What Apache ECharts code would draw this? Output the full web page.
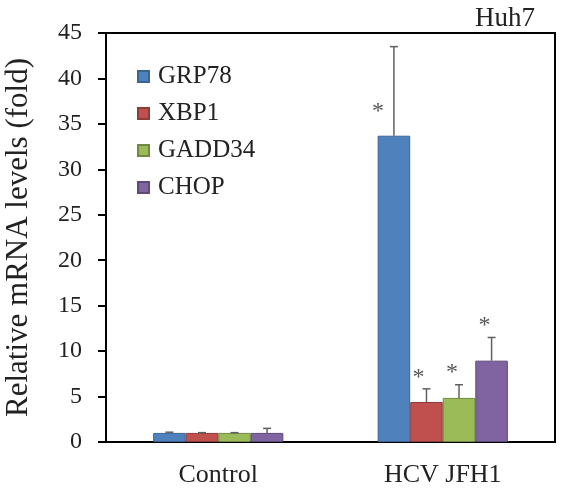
<!DOCTYPE html>
<html><head><meta charset="utf-8">
<script src="https://cdn.jsdelivr.net/npm/echarts@6/dist/echarts.min.js"></script>
<style>html,body{margin:0;padding:0;background:#fff}#c{width:564px;height:492px}</style>
</head><body><div id="c"></div>
<script>
const categories = ['Control', 'HCV JFH1'];
const seriesNames = ['GRP78', 'XBP1', 'GADD34', 'CHOP'];
const grp78 = [1.0, 33.7];
const xbp1 = [1.0, 4.4];
const gadd34 = [1.0, 4.85];
const chop = [1.0, 8.95];
const grp78Err = [0.08, 9.8];
const xbp1Err = [0.03, 1.45];
const gadd34Err = [0.03, 1.45];
const chopErr = [0.5, 2.55];
const grp78Star = [null, 36.6];
const xbp1Star = [null, 7.3];
const gadd34Star = [null, 7.85];
const chopStar = [null, 13.0];
const yMin = 0, yMax = 45, yStep = 5;
const panelTitle = 'Huh7';
const yTitle = 'Relative mRNA levels (fold)';

const values = [grp78, xbp1, gadd34, chop];
const errs = [grp78Err, xbp1Err, gadd34Err, chopErr];
const stars = [grp78Star, xbp1Star, gadd34Star, chopStar];
const fills = ['#4F81BD', '#C0504D', '#9BBB59', '#8064A2'];
const borders = ['#3A6496', '#8E3B39', '#6F8A3F', '#5E4A7A'];
const starDx = [-16, -8, -7, -7];
const FONT = 'Liberation Serif';
const CAT_GAP = 0.42;

const chart = echarts.init(document.getElementById('c'), null, {renderer: 'canvas'});

const series = [];
seriesNames.forEach((name, k) => {
  series.push({
    name: name, type: 'bar', data: values[k],
    barGap: '0%', barCategoryGap: (CAT_GAP * 100) + '%',
    itemStyle: {color: fills[k], borderColor: borders[k], borderWidth: 1},
    emphasis: {disabled: true}, z: 2
  });
});
seriesNames.forEach((name, k) => {
  series.push({
    type: 'custom', name: name + '-err', z: 5, silent: true,
    encode: {x: 0, y: 1},
    data: categories.map((c, i) => [i, values[k][i], errs[k][i], stars[k][i] == null ? -1 : stars[k][i]]),
    renderItem: function (params, api) {
      const ci = api.value(0), v = api.value(1), e = api.value(2), s = api.value(3);
      const base = api.coord([ci, v]);
      const top = api.coord([ci, v + e]);
      const band = api.size([1, 0])[0];
      const bw = band * (1 - CAT_GAP) / 4;
      const x = base[0] + (k - 1.5) * bw;
      const stroke = {stroke: '#606060', lineWidth: 1.5};
      const children = [
        {type: 'line', shape: {x1: x, y1: base[1], x2: x, y2: top[1]}, style: stroke},
        {type: 'line', shape: {x1: x - 4, y1: top[1], x2: x + 4, y2: top[1]}, style: stroke}
      ];
      if (s >= 0) {
        const sp = api.coord([ci, s]);
        children.push({type: 'text', x: x + starDx[k], y: sp[1] + 2,
          style: {text: '*', fontFamily: FONT, fontSize: 24, fill: '#555', align: 'center', verticalAlign: 'middle'}});
      }
      return {type: 'group', children: children};
    }
  });
});

chart.setOption({
  animation: false,
  backgroundColor: '#fff',
  textStyle: {fontFamily: FONT},
  title: {text: panelTitle, right: 24, top: 0,
    textStyle: {fontFamily: FONT, fontSize: 27, fontWeight: 'normal', color: '#222'}},
  legend: {
    data: seriesNames, orient: 'vertical', left: 137, top: 64, padding: 0,
    itemWidth: 11, itemHeight: 11, itemGap: 12, icon: 'rect',
    textStyle: {fontFamily: FONT, fontSize: 25, color: '#222', padding: [0, 0, 0, 4]}
  },
  grid: {left: 106, right: 9, top: 33, bottom: 50, show: true, borderColor: '#000', borderWidth: 2,
    containLabel: false, outerBoundsMode: 'none'},
  xAxis: {
    type: 'category', data: categories,
    axisLine: {lineStyle: {color: '#000', width: 2}},
    axisTick: {show: false},
    axisLabel: {fontFamily: FONT, fontSize: 26, color: '#222', margin: 20}
  },
  yAxis: {
    type: 'value', min: yMin, max: yMax, interval: yStep,
    name: yTitle, nameLocation: 'middle', nameRotate: 90, nameGap: 72,
    nameTextStyle: {fontFamily: FONT, fontSize: 31, color: '#222', padding: [6, 0, 0, 0]},
    axisLine: {show: true, lineStyle: {color: '#000', width: 2}},
    axisTick: {show: true, inside: false, length: 8, lineStyle: {color: '#000', width: 2}},
    axisLabel: {fontFamily: FONT, fontSize: 24, color: '#222', margin: 24},
    splitLine: {show: false}
  },
  series: series
});
</script></body></html>
